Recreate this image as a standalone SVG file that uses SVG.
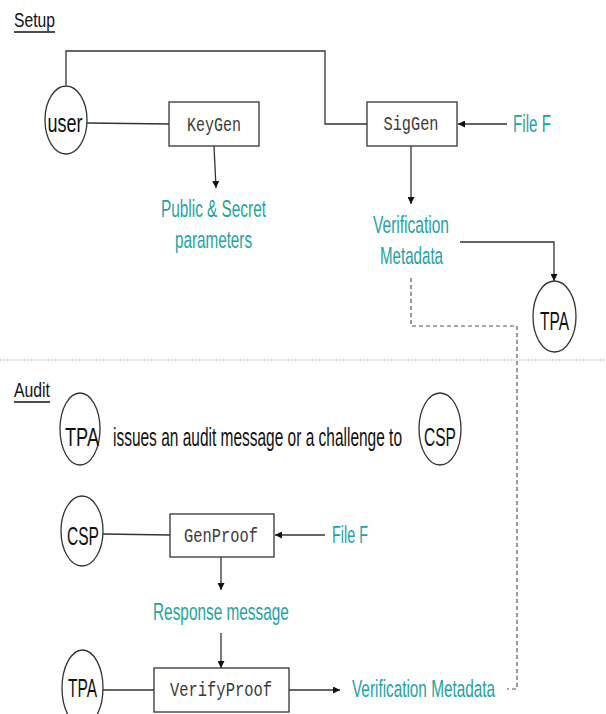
<svg xmlns="http://www.w3.org/2000/svg" width="606" height="714" viewBox="0 0 606 714">
<defs>
<marker id="ah" viewBox="0 0 10 10" refX="10" refY="5" markerWidth="7" markerHeight="7" markerUnits="userSpaceOnUse" orient="auto">
<path d="M0,0 L10,5 L0,10 z" fill="#111"/>
</marker>
<style>
.ln{fill:none;stroke:#333;stroke-width:1.3}
.dash{fill:none;stroke:#555;stroke-width:1.2;stroke-dasharray:4 3}
.sep{fill:none;stroke:#bbb;stroke-width:1;stroke-dasharray:2 1}
.box{fill:#fff;stroke:#333;stroke-width:1.3}
.ell{fill:#fff;stroke:#333;stroke-width:1.3}
.mono{font-family:"Liberation Mono","DejaVu Sans Mono",monospace;font-size:21px;fill:#3a3a3a;text-anchor:middle}
.lbl{font-family:"Liberation Sans",Arial,sans-serif;font-size:24px;fill:#1ea3a3}
.blk{font-family:"Liberation Sans",Arial,sans-serif;font-size:25px;fill:#111}
.mid{text-anchor:middle}
.hd{font-family:"Liberation Sans",Arial,sans-serif;font-size:20px;fill:#111}
</style>
</defs>
<rect width="606" height="714" fill="#fff"/>

<g id="headings">
<text class="hd" transform="translate(14,27) scale(0.785,1)" textLength="52.2" lengthAdjust="spacingAndGlyphs">Setup</text>
<line x1="14" y1="32" x2="55" y2="32" stroke="#111" stroke-width="1.3"/>
<text class="hd" transform="translate(14,397) scale(0.79,1)" textLength="45.6" lengthAdjust="spacingAndGlyphs">Audit</text>
<line x1="14" y1="402" x2="50" y2="402" stroke="#111" stroke-width="1.3"/>
</g>

<g id="connectors">
<polyline class="ln" points="66,85 66,51 325,51 325,124 367,124"/>
<line class="ln" x1="87" y1="123" x2="169" y2="124"/>
<line class="ln" x1="214" y1="146" x2="216" y2="188" marker-end="url(#ah)"/>
<line class="ln" x1="507" y1="124" x2="458" y2="124" marker-end="url(#ah)"/>
<line class="ln" x1="411" y1="146" x2="411" y2="204" marker-end="url(#ah)"/>
<polyline class="ln" points="460,242 554,242 554,281" marker-end="url(#ah)"/>
<polyline class="dash" points="411,278 411,326 517,326 517,689 507,689"/>
<line class="sep" x1="0" y1="360" x2="606" y2="360"/>
<line class="ln" x1="103" y1="534" x2="170" y2="535"/>
<line class="ln" x1="325" y1="535" x2="275" y2="535" marker-end="url(#ah)"/>
<line class="ln" x1="221" y1="557" x2="221" y2="590" marker-end="url(#ah)"/>
<line class="ln" x1="221" y1="633" x2="221" y2="668" marker-end="url(#ah)"/>
<line class="ln" x1="103" y1="690" x2="154" y2="690"/>
<line class="ln" x1="289" y1="690" x2="340" y2="690" marker-end="url(#ah)"/>
</g>

<g id="user">
<ellipse class="ell" cx="66" cy="120" rx="21" ry="34"/>
<text class="blk mid" font-size="27" transform="translate(65,132) scale(0.667,1)" textLength="52.5" lengthAdjust="spacingAndGlyphs">user</text>
</g>
<g id="keygen">
<rect class="box" x="169" y="102" width="90" height="44"/>
<text class="mono" transform="translate(214,131) scale(0.714,1)" textLength="75.6" lengthAdjust="spacingAndGlyphs">KeyGen</text>
</g>
<g id="siggen">
<rect class="box" x="367" y="102" width="90" height="44"/>
<text class="mono" transform="translate(411,130) scale(0.73,1)" textLength="75.3" lengthAdjust="spacingAndGlyphs">SigGen</text>
</g>
<g id="file1">
<text class="lbl" font-size="25" transform="translate(513,132) scale(0.61,1)" textLength="62.3" lengthAdjust="spacingAndGlyphs">File F</text>
</g>
<g id="params">
<text class="lbl" transform="translate(161,217) scale(0.64,1)" textLength="164" lengthAdjust="spacingAndGlyphs">Public &amp; Secret</text>
<text class="lbl" transform="translate(175,248) scale(0.634,1)" textLength="121.5" lengthAdjust="spacingAndGlyphs">parameters</text>
</g>
<g id="vmeta1">
<text class="lbl" transform="translate(373,233) scale(0.64,1)" textLength="118.75" lengthAdjust="spacingAndGlyphs">Verification</text>
<text class="lbl" transform="translate(380,264) scale(0.63,1)" textLength="100" lengthAdjust="spacingAndGlyphs">Metadata</text>
</g>
<g id="tpa1">
<ellipse class="ell" cx="554.5" cy="316.5" rx="21.5" ry="35.5"/>
<text class="blk mid" transform="translate(554.5,330) scale(0.6,1)" textLength="48.3" lengthAdjust="spacingAndGlyphs">TPA</text>
</g>

<g id="tpa2">
<ellipse class="ell" cx="80" cy="429" rx="20" ry="36"/>
<text class="blk mid" font-size="29" transform="translate(82,446) scale(0.6,1)" textLength="56.7" lengthAdjust="spacingAndGlyphs">TPA</text>
</g>
<g id="issues">
<text class="blk" font-size="29" transform="translate(113,446) scale(0.6,1)" textLength="481.7" lengthAdjust="spacingAndGlyphs">issues an audit message or a challenge to</text>
</g>
<g id="csp1">
<ellipse class="ell" cx="440" cy="429" rx="21" ry="36"/>
<text class="blk mid" font-size="29" transform="translate(440,446) scale(0.56,1)" textLength="57" lengthAdjust="spacingAndGlyphs">CSP</text>
</g>

<g id="csp2">
<ellipse class="ell" cx="82" cy="531" rx="21" ry="35"/>
<text class="blk mid" transform="translate(83,545) scale(0.62,1)" textLength="51.6" lengthAdjust="spacingAndGlyphs">CSP</text>
</g>
<g id="genproof">
<rect class="box" x="170" y="514" width="104" height="43"/>
<text class="mono" transform="translate(221,542) scale(0.734,1)" textLength="100.8" lengthAdjust="spacingAndGlyphs">GenProof</text>
</g>
<g id="file2">
<text class="lbl" font-size="25" transform="translate(332,543) scale(0.58,1)" textLength="62" lengthAdjust="spacingAndGlyphs">File F</text>
</g>
<g id="response">
<text class="lbl" font-size="22" transform="translate(153,620) scale(0.65,1)" textLength="209" lengthAdjust="spacingAndGlyphs">Response message</text>
</g>

<g id="tpa3">
<ellipse class="ell" cx="82.5" cy="688" rx="20.5" ry="38"/>
<text class="blk mid" transform="translate(82.5,697) scale(0.6,1)" textLength="48.3" lengthAdjust="spacingAndGlyphs">TPA</text>
</g>
<g id="verifyproof">
<rect class="box" x="154" y="668" width="135" height="44"/>
<text class="mono" transform="translate(221,696) scale(0.736,1)" textLength="138.6" lengthAdjust="spacingAndGlyphs">VerifyProof</text>
</g>
<g id="vmeta2">
<text class="lbl" transform="translate(352,697) scale(0.634,1)" textLength="225.5" lengthAdjust="spacingAndGlyphs">Verification Metadata</text>
</g>
</svg>
